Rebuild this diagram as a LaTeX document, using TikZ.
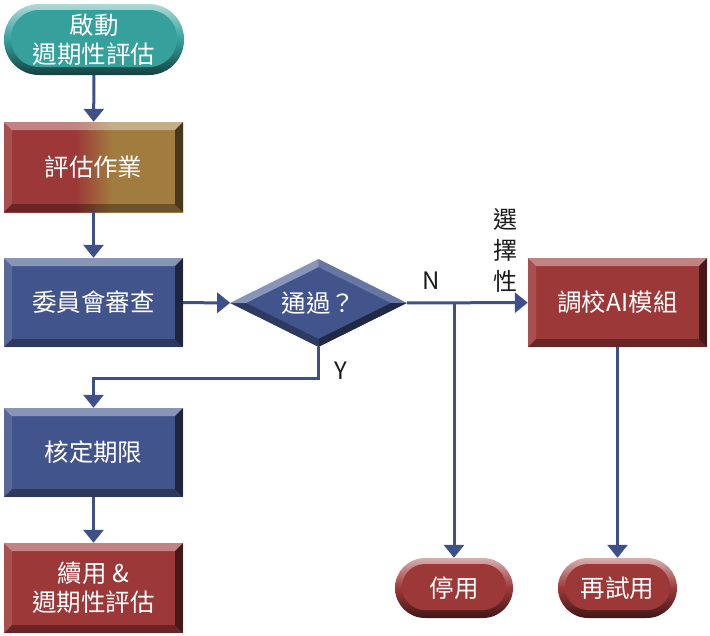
\documentclass[tikz,border=0pt]{standalone}
\usepackage{fontspec}
\setmainfont{Noto Sans CJK TC}
\usetikzlibrary{arrows.meta,shapes.geometric}
\definecolor{lineblue}{HTML}{3E5089}
\definecolor{bblue}{HTML}{42548C}
\definecolor{bred}{HTML}{9C3838}
\definecolor{bteal}{HTML}{36A09C}
\definecolor{bgold}{HTML}{A27B3E}
\definecolor{lbltext}{HTML}{1A1A1A}
\pgfdeclarehorizontalshading{redgold}{100bp}{color(0bp)=(bred); color(45bp)=(bred); color(55bp)=(bgold); color(100bp)=(bgold)}
\tikzset{
  txt/.style={text=white, align=center, inner sep=0pt, font=\fontsize{24.5}{29}\selectfont},
  bevelbox/.style={txt, rectangle, minimum width=179pt, minimum height=89pt,
    path picture={
      \fill[white,opacity=.38] (path picture bounding box.north west) -- (path picture bounding box.north east)
        -- ([xshift=-8pt,yshift=-8pt]path picture bounding box.north east) -- ([xshift=8pt,yshift=-8pt]path picture bounding box.north west) -- cycle;
      \fill[white,opacity=.12] (path picture bounding box.north west) -- (path picture bounding box.south west)
        -- ([xshift=8pt,yshift=8pt]path picture bounding box.south west) -- ([xshift=8pt,yshift=-8pt]path picture bounding box.north west) -- cycle;
      \fill[black,opacity=.55] (path picture bounding box.north east) -- (path picture bounding box.south east)
        -- ([xshift=-8pt,yshift=8pt]path picture bounding box.south east) -- ([xshift=-8pt,yshift=-8pt]path picture bounding box.north east) -- cycle;
      \fill[black,opacity=.32] (path picture bounding box.south west) -- (path picture bounding box.south east)
        -- ([xshift=-8pt,yshift=8pt]path picture bounding box.south east) -- ([xshift=8pt,yshift=8pt]path picture bounding box.south west) -- cycle;
    }},
  term/.style n args={3}{txt, rectangle, rounded corners=#2, top color=#1!40!white, bottom color=#1!40!black, middle color=#1,
    path picture={
      \fill[#1, rounded corners=#3] ([xshift=7pt,yshift=-6pt]path picture bounding box.north west) rectangle ([xshift=-7pt,yshift=8pt]path picture bounding box.south east);
    }},
  decbox/.style={txt, diamond, aspect=2, minimum width=177pt, minimum height=88pt, fill=bblue,
    path picture={
      \fill[white,opacity=.38] (path picture bounding box.west) -- (path picture bounding box.north)
        -- ([yshift=-8pt]path picture bounding box.north) -- ([xshift=16pt]path picture bounding box.west) -- cycle;
      \fill[white,opacity=.2] (path picture bounding box.north) -- (path picture bounding box.east)
        -- ([xshift=-16pt]path picture bounding box.east) -- ([yshift=-8pt]path picture bounding box.north) -- cycle;
      \fill[black,opacity=.5] (path picture bounding box.east) -- (path picture bounding box.south)
        -- ([yshift=8pt]path picture bounding box.south) -- ([xshift=-16pt]path picture bounding box.east) -- cycle;
      \fill[black,opacity=.3] (path picture bounding box.south) -- (path picture bounding box.west)
        -- ([xshift=16pt]path picture bounding box.west) -- ([yshift=8pt]path picture bounding box.south) -- cycle;
    }},
  conn/.style={draw=lineblue, line width=3pt, -{Triangle[width=20pt,length=13pt]}},
  lbl/.style={text=lbltext, inner sep=0pt, align=center, font=\fontsize{24}{31}\selectfont}
}
\begin{document}
\begin{tikzpicture}[x=1pt,y=-1pt]
\useasboundingbox (0,0) rectangle (710,635);
% nodes
\node[term={bteal}{35pt}{28pt}, minimum width=180pt, minimum height=71pt] (start) at (94,39.5) {啟動\\週期性評估};
\node[bevelbox, shading=redgold, minimum height=90pt] (eval) at (93.5,167) {評估作業};
\node[bevelbox, fill=bblue] (review) at (93.5,302.5) {委員會審查};
\node[decbox] (dec) at (318.5,303) {通過？};
\node[bevelbox, fill=bred] (tune) at (617.5,302.5) {調校AI模組};
\node[bevelbox, fill=bblue] (limit) at (93.5,452.5) {核定期限};
\node[bevelbox, fill=bred, minimum height=90pt] (cont) at (93.5,588) {續用 \&\\週期性評估};
\node[term={bred}{30pt}{23pt}, minimum width=118pt, minimum height=60pt] (stop) at (454,588) {停用};
\node[term={bred}{30pt}{23pt}, minimum width=119pt, minimum height=60pt] (retry) at (617.5,588) {再試用};
% labels
\node[lbl] (nlab) at (431,281) {N};
\node[lbl] (ylab) at (341,371) {Y};
\node[lbl] (optlab) at (505,250) {選\\擇\\性};
% helper coordinates
\coordinate (nb) at (454,303);
\coordinate (yb) at (318.5,378);
% connectors
\draw[conn] (start) -- (eval);
\draw[conn] (eval) -- (review);
\draw[conn] (review) -- (dec);
\draw[conn] (dec) -- (tune);
\draw[conn] (nb) -- (stop);
\draw[conn] (dec.south) -- (yb) -| (limit.north);
\draw[conn] (limit) -- (cont);
\draw[conn] (tune) -- (retry);
\end{tikzpicture}
\end{document}
